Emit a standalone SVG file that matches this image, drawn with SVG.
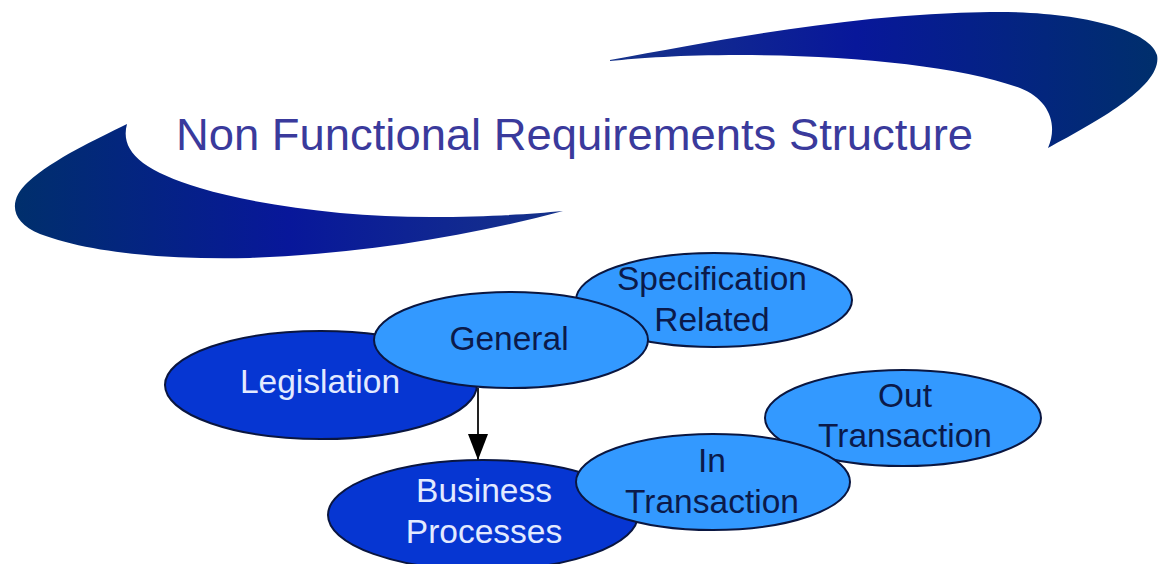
<svg xmlns="http://www.w3.org/2000/svg" width="1161" height="564" viewBox="0 0 1161 564">
  <defs>
    <linearGradient id="gl" x1="0" y1="0" x2="1" y2="0">
      <stop offset="0" stop-color="#002f6c"/>
      <stop offset="0.5" stop-color="#08179a"/>
      <stop offset="1" stop-color="#16338a"/>
    </linearGradient>
    <linearGradient id="gr" x1="0" y1="0" x2="1" y2="0">
      <stop offset="0" stop-color="#16338a"/>
      <stop offset="0.45" stop-color="#08179a"/>
      <stop offset="1" stop-color="#002f6c"/>
    </linearGradient>
    <marker id="ah" markerWidth="26" markerHeight="20" refX="26" refY="10" orient="auto" markerUnits="userSpaceOnUse" viewBox="0 0 26 20">
      <path d="M0,0 L26,10 L0,20 Z" fill="#000"/>
    </marker>
    <style>
      .dark { fill: #0636d2; stroke: #0a1640; stroke-width: 2; }
      .light { fill: #3399ff; stroke: #0a1640; stroke-width: 2; }
      .tl { font-family: "Liberation Sans", Arial, sans-serif; font-size: 33.5px; text-anchor: middle; fill: #e2eaff; }
      .td { font-family: "Liberation Sans", Arial, sans-serif; font-size: 33.5px; text-anchor: middle; fill: #0b1a4a; }
      .title { font-family: "Liberation Sans", Arial, sans-serif; font-size: 45px; fill: #3a3a9c; }
    </style>
  </defs>
  <rect width="1161" height="564" fill="#ffffff"/>

  <g id="swoosh-left">
    <path d="M127,124 C120,150 140,170 200,188 C260,206 350,217 430,217 C490,217 530,214 563,211 C470,236 360,254 250,258 C170,260 90,253 40,234 C10,222 8,200 28,182 C55,158 95,140 127,124 Z" fill="url(#gl)"/>
  </g>
  <g id="swoosh-right">
    <path d="M610,60 C720,40 850,14 990,12 C1080,11 1150,30 1157,55 C1163,85 1100,120 1048,148 C1058,125 1050,100 1020,88 C960,66 850,55 740,55 C680,55 640,58 610,61 Z" fill="url(#gr)"/>
  </g>
  <g id="title">
    <text class="title" x="176" y="150" textLength="797" lengthAdjust="spacingAndGlyphs">Non Functional Requirements Structure</text>
  </g>

  <g id="legislation">
    <ellipse class="dark" cx="321" cy="385" rx="156" ry="54"/>
    <text class="tl" x="320" y="393">Legislation</text>
  </g>
  <g id="specification-related">
    <ellipse class="light" cx="714" cy="300" rx="138" ry="47"/>
    <text class="td" x="712" y="290">Specification</text>
    <text class="td" x="712" y="331">Related</text>
  </g>
  <g id="general">
    <ellipse class="light" cx="511" cy="340" rx="137" ry="48"/>
    <text class="td" x="509" y="350">General</text>
  </g>

  <g id="business-processes">
    <ellipse class="dark" cx="483" cy="515" rx="155" ry="55"/>
    <text class="tl" x="484" y="502">Business</text>
    <text class="tl" x="484" y="543">Processes</text>
  </g>
  <g id="out-transaction">
    <ellipse class="light" cx="903" cy="418" rx="138" ry="48"/>
    <text class="td" x="905" y="407">Out</text>
    <text class="td" x="905" y="447">Transaction</text>
  </g>
  <g id="in-transaction">
    <ellipse class="light" cx="713" cy="482" rx="137" ry="48"/>
    <text class="td" x="712" y="472">In</text>
    <text class="td" x="712" y="513">Transaction</text>
  </g>

  <g id="connectors">
    <line x1="478" y1="388" x2="478" y2="460" stroke="#222" stroke-width="2" marker-end="url(#ah)"/>
  </g>
</svg>
